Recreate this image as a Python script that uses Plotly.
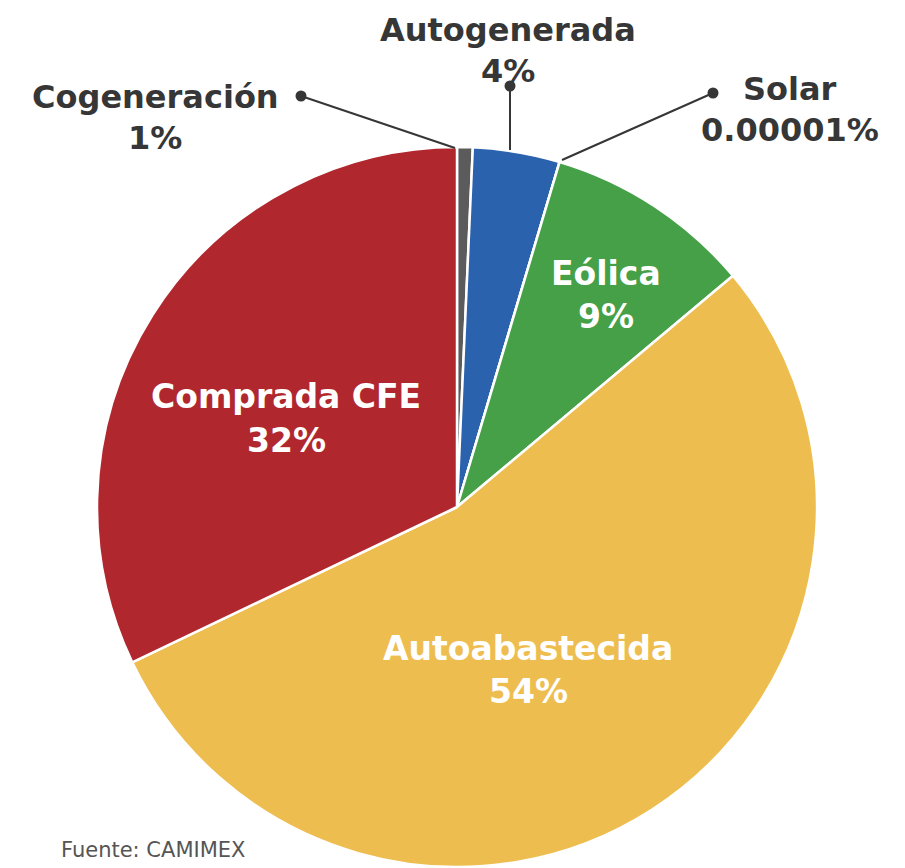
import plotly.graph_objects as go

W, H = 905, 868
OFF = 8  # page offset of the figure inside the browser window

labels = ["Cogeneración", "Autogenerada", "Solar", "Eólica", "Autoabastecida", "Comprada CFE"]
values = [0.7, 3.9, 0.00001, 9.3, 54.0, 32.1]
colors = ["#5b5b5b", "#2a62ad", "#2c3e50", "#45a047", "#eebd4f", "#b1272e"]
pct_text = ["1%", "4%", "0.00001%", "9%", "54%", "32%"]
source_text = "Fuente: CAMIMEX"

cx, cy, r = 457, 507, 360

def px(x):
    return (x - OFF) / W

def py(y):
    return 1 - (y - OFF) / H

fig = go.Figure()
fig.add_trace(go.Pie(
    labels=labels,
    values=values,
    sort=False,
    direction="clockwise",
    rotation=0,
    marker=dict(colors=colors, line=dict(color="white", width=2.5)),
    textinfo="none",
    hoverinfo="label+percent",
    showlegend=False,
    domain=dict(x=[px(cx - r), px(cx + r)], y=[py(cy + r), py(cy - r)]),
))

FONT = "DejaVu Sans"
dark = "#363636"

inside = [(5, 286, 397), (3, 606, 273), (4, 528, 648)]
outside = [(0, 155, 97), (1, 508, 30), (2, 790, 89)]

annotations = []
for i, x, y in inside:
    annotations.append(dict(
        x=px(x), y=py(y), xref="paper", yref="paper", showarrow=False,
        text=labels[i], font=dict(family=FONT, size=33, color="white", weight="bold"),
        xanchor="center", yanchor="middle"))
    annotations.append(dict(
        x=px(x), y=py(y + 43), xref="paper", yref="paper", showarrow=False,
        text=pct_text[i], font=dict(family=FONT, size=33, color="white", weight="bold"),
        xanchor="center", yanchor="middle"))
for i, x, y in outside:
    annotations.append(dict(
        x=px(x), y=py(y), xref="paper", yref="paper", showarrow=False,
        text=labels[i], font=dict(family=FONT, size=32, color=dark, weight="bold"),
        xanchor="center", yanchor="middle"))
    annotations.append(dict(
        x=px(x), y=py(y + 41), xref="paper", yref="paper", showarrow=False,
        text=pct_text[i], font=dict(family=FONT, size=32, color=dark, weight="bold"),
        xanchor="center", yanchor="middle"))

annotations.append(dict(
    x=px(248), y=py(864), xref="paper", yref="paper", showarrow=False,
    text=source_text, font=dict(family=FONT, size=21, color="#555555"),
    xanchor="right", yanchor="bottom"))

leaders = [((301, 96), (455, 148)), ((510, 86), (510, 150)), ((713, 93), (562, 160))]
shapes = []
for (dx, dy), (ex, ey) in leaders:
    shapes.append(dict(type="line", xref="paper", yref="paper",
                       x0=px(dx), y0=py(dy), x1=px(ex), y1=py(ey),
                       line=dict(color=dark, width=2)))
    rr = 5.5
    shapes.append(dict(type="circle", xref="paper", yref="paper",
                       x0=px(dx - rr), x1=px(dx + rr), y0=py(dy + rr), y1=py(dy - rr),
                       fillcolor=dark, line=dict(color=dark, width=0)))

fig.update_layout(
    width=W, height=H,
    margin=dict(l=0, r=0, t=0, b=0),
    paper_bgcolor="white",
    plot_bgcolor="white",
    annotations=annotations,
    shapes=shapes,
)

fig.write_html("out.html")
